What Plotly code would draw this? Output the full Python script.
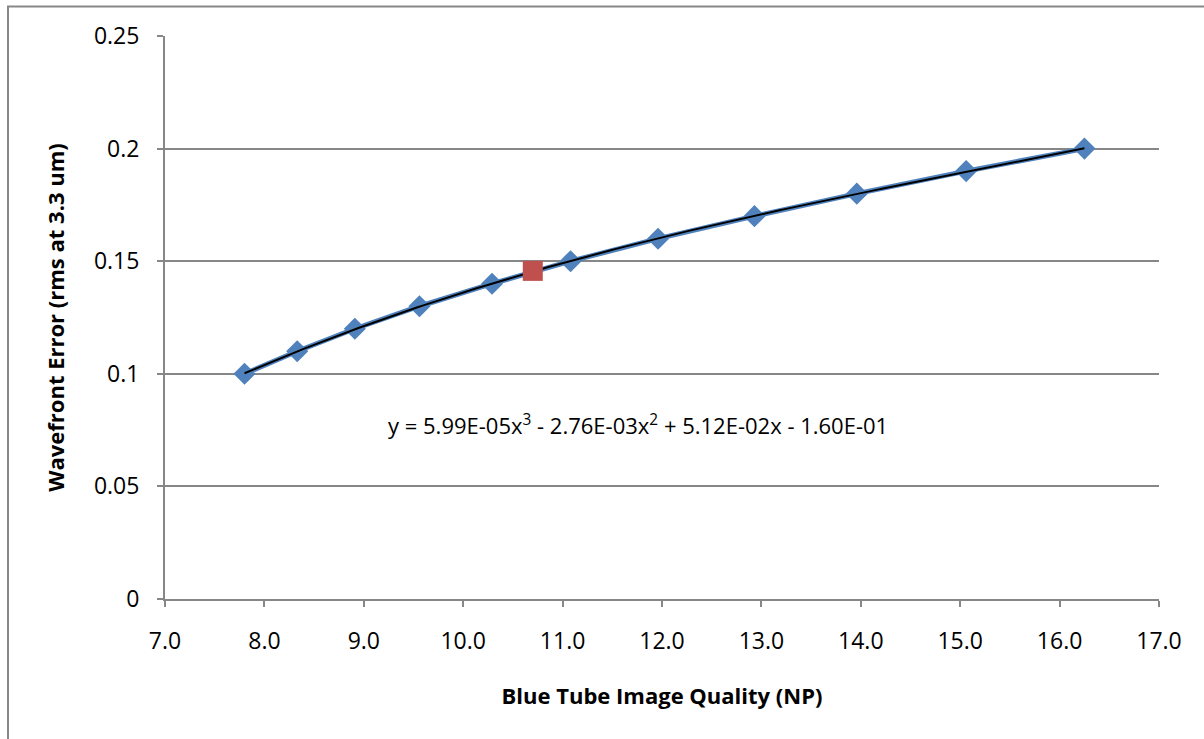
import numpy as np
import plotly.graph_objects as go

# Data
image_quality_np = [7.80, 8.33, 8.91, 9.56, 10.29, 11.08, 11.96, 12.93, 13.96, 15.06, 16.25]
wavefront_error = [0.10, 0.11, 0.12, 0.13, 0.14, 0.15, 0.16, 0.17, 0.18, 0.19, 0.20]
highlight_x = [10.70]
highlight_y = [0.1457]
equation_text = "y = 5.99E-05x<sup>3</sup> - 2.76E-03x<sup>2</sup> + 5.12E-02x - 1.60E-01"
x_title = "<b>Blue Tube Image Quality (NP)</b>"
y_title = "<b>Wavefront Error (rms at 3.3 um)</b>"

# Polynomial (order 3) trendline fitted to the data, as the spreadsheet did
coefs = np.polyfit(image_quality_np, wavefront_error, 3)
trend_x = np.linspace(min(image_quality_np), max(image_quality_np), 200)
trend_y = np.polyval(coefs, trend_x)

FONT = "Open Sans"
GRAY = "#878787"

W, H = 1204, 739
L, R, T, B = 165, 1159, 35.5, 599

fig = go.Figure()
fig.add_trace(go.Scatter(
    x=image_quality_np, y=wavefront_error, mode="lines+markers",
    line=dict(color="#4F81BD", width=5),
    marker=dict(symbol="diamond", size=17, color="#4F81BD"),
    showlegend=False, hoverinfo="x+y"))
fig.add_trace(go.Scatter(
    x=trend_x, y=trend_y, mode="lines",
    line=dict(color="#000000", width=2),
    showlegend=False, hoverinfo="skip"))
fig.add_trace(go.Scatter(
    x=highlight_x, y=highlight_y, mode="markers",
    marker=dict(symbol="square", size=20, color="#C0504D"),
    showlegend=False))

def px_to_paper_x(px):
    return (px - L) / (R - L)

def px_to_paper_y(py):
    return (B - py) / (B - T)

fig.add_annotation(
    x=px_to_paper_x(638), y=px_to_paper_y(424), xref="paper", yref="paper",
    text=equation_text, showarrow=False, xanchor="center", yanchor="middle",
    font=dict(family=FONT, size=22, color="#000000"))

# Chart-area border (left and top edges visible)
fig.add_shape(type="path", xref="paper", yref="paper",
              path=f"M {px_to_paper_x(8)} {px_to_paper_y(745)} L {px_to_paper_x(8)} {px_to_paper_y(6)} L {px_to_paper_x(1210)} {px_to_paper_y(6)}",
              line=dict(color=GRAY, width=2))

fig.update_layout(
    width=W, height=H,
    margin=dict(l=L, r=W - R, t=T, b=H - B),
    plot_bgcolor="white", paper_bgcolor="white",
    font=dict(family=FONT, size=23, color="#000000"),
    xaxis=dict(
        range=[7, 17], dtick=1, tick0=7, tickformat=".1f",
        showgrid=False, zeroline=False,
        showline=True, linecolor=GRAY, linewidth=2,
        ticks="outside", ticklen=6, tickcolor=GRAY, tickwidth=2,
        ticklabelstandoff=14,
        title=dict(text=x_title, font=dict(family=FONT, size=22), standoff=34)),
    yaxis=dict(
        range=[0, 0.25], dtick=0.05, tick0=0,
        showgrid=True, gridcolor=GRAY, gridwidth=1.5, zeroline=False,
        showline=True, linecolor=GRAY, linewidth=2,
        ticks="outside", ticklen=6, tickcolor=GRAY, tickwidth=2,
        ticklabelstandoff=13,
        title=dict(text=y_title, font=dict(family=FONT, size=22), standoff=23)),
)

fig.write_html("out.html", config={"displayModeBar": False},
               post_script="document.body.style.margin='0';")
